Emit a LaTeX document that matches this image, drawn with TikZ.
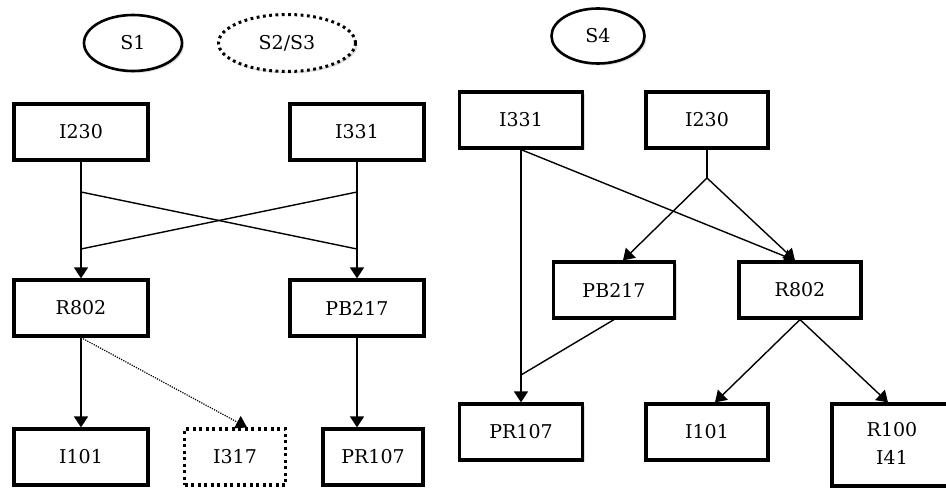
\documentclass[tikz,border=0pt]{standalone}
\usepackage{fontspec}
\setmainfont{DejaVu Serif}
\usepackage{tikz}
\usetikzlibrary{arrows.meta, positioning, shapes.geometric, shadows, calc}

\begin{document}
\begin{tikzpicture}[x=1pt, y=-1pt, >={Triangle[length=11pt,width=14pt]},
  font=\fontsize{19}{26}\selectfont,
  box/.style={draw, line width=3.2pt, fill=white, minimum width=134, minimum height=56,
    drop shadow={opacity=0.25, shadow xshift=2pt, shadow yshift=-2pt}},
  dotbox/.style={draw, line width=3.2pt, dash pattern=on 3pt off 3.5pt, fill=white,
    minimum width=101, minimum height=56},
  sess/.style={ellipse, draw, line width=2.6pt, fill=white,
    drop shadow={opacity=0.25, shadow xshift=2pt, shadow yshift=-2pt}},
  link/.style={line width=1.4pt},
  dotlink/.style={line width=1.2pt, dash pattern=on 1.2pt off 1.2pt}]

\useasboundingbox (0,0) rectangle (946,492);

% sessions
\node[sess, minimum width=98, minimum height=56] (S1) at (133,43) {S1};
\node[sess, dash pattern=on 2.8pt off 3.5pt, line width=3pt, drop shadow={opacity=0},
  minimum width=137, minimum height=57] (S23) at (287,43) {S2/S3};
\node[sess, minimum width=93, minimum height=55] (S4) at (598,36) {S4};

% --- left graph (S1, S2/S3) ---
\node[box] (I230L) at (81,132) {I230};
\node[box] (I331L) at (357,132) {I331};
\node[box] (R802L) at (81,308) {R802};
\node[box] (PB217L) at (357,308) {PB217};
\node[box] (I101L) at (81,457) {I101};
\node[dotbox] (I317) at (235,457) {I317};
\node[box, minimum width=100] (PR107L) at (373,457) {PR107};

\coordinate (ltop) at (81,192);
\coordinate (rtop) at (357,192);
\coordinate (lbot) at (81,249);
\coordinate (rbot) at (357,249);

\draw[link,->] (I230L) -- (R802L);
\draw[link,->] (I331L) -- (PB217L);
\draw[link] (ltop) -- (rbot);
\draw[link] (rtop) -- (lbot);
\draw[link,->] (R802L) -- (I101L);
\draw[dotlink,->] (R802L.south) -- ($(I317.north)+(12,0)$);
\draw[link,->] (PB217L.south) -- (PB217L.south |- PR107L.north);

% --- right graph (S4) ---
\node[box, minimum width=123] (I331R) at (521,120) {I331};
\node[box, minimum width=122] (I230R) at (707,120) {I230};
\node[box, minimum width=121] (PB217R) at (614,290) {PB217};
\node[box, minimum width=122] (R802R) at (800,290) {R802};
\node[box, minimum width=123] (PR107R) at (521,432) {PR107};
\node[box, minimum width=122] (I101R) at (707,432) {I101};
\node[box, minimum width=120, minimum height=82, align=center] (R100) at (892,445) {R100\\[2pt]I41\\[-22pt]};

\coordinate (fork) at (707,178);
\coordinate (join) at (521,375);

\draw[link,->] (I331R) -- (PR107R);
\draw[link,->] (I331R.south) -- ($(R802R.north)+(-5,0)$);
\draw[link] (I230R) -- (fork);
\draw[link,->] (fork) -- ($(PB217R.north)+(9,0)$);
\draw[link,->] (fork) -- ($(R802R.north)+(-5,0)$);
\draw[link] (PB217R.south) -- (join);
\draw[link,->] (R802R.south) -- ($(I101R.north)+(8,0)$);
\draw[link,->] (R802R.south) -- ($(R100.north)+(-4,0)$);

\end{tikzpicture}
\end{document}
